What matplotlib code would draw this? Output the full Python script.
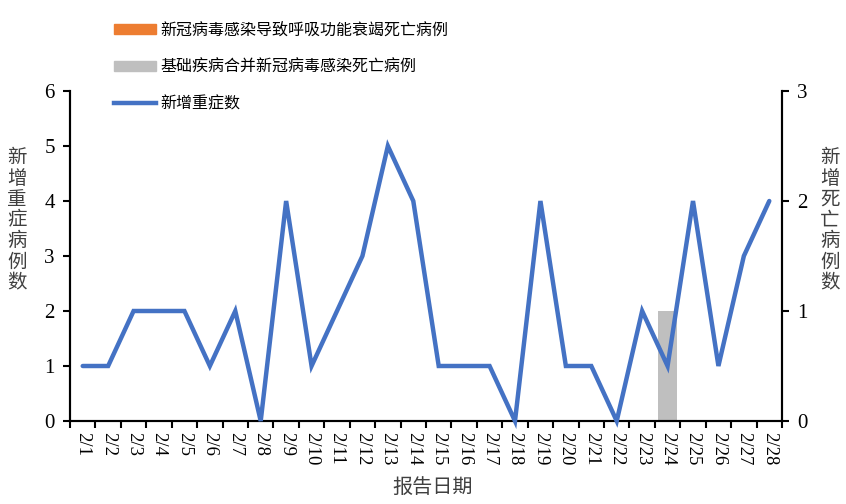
import matplotlib
matplotlib.use("Agg")

import matplotlib.pyplot as plt
import matplotlib.lines as mlines
import matplotlib.patches as mpatches
import numpy as np

# ── Data ──────────────────────────────────────────────────────────────────────
dates = [f"2/{d}" for d in range(1, 29)]
severe_new = [1, 1, 2, 2, 2, 1, 2, 0, 4, 1, 2, 3, 5, 4,
              1, 1, 1, 0, 4, 1, 1, 0, 2, 1, 4, 1, 3, 4]
deaths_resp = [0] * 28
deaths_comorb = [0] * 23 + [1] + [0] * 4

labels = ["新冠病毒感染导致呼吸功能衰竭死亡病例",
          "基础疾病合并新冠病毒感染死亡病例",
          "新增重症数"]

C_ORANGE = "#ED7D31"
C_GRAY = "#BFBFBF"
C_BLUE = "#4472C4"

CJK = ["Noto Sans CJK SC", "DejaVu Sans"]
NUM = "Liberation Serif"

fig = plt.figure(figsize=(8.46, 5.04), dpi=100)
ax = fig.add_axes([70 / 846, 1 - 421 / 504, 712 / 846, 330 / 504])
ax2 = ax.twinx()

x = np.arange(len(dates))
ax2.bar(x, deaths_resp, width=0.78, color=C_ORANGE, zorder=1)
ax2.bar(x, deaths_comorb, width=0.78, color=C_GRAY, zorder=1)
ax2.set_ylim(0, 3)
ax2.set_yticks([0, 1, 2, 3])

# line on top of bars
ax.set_zorder(ax2.get_zorder() + 1)
ax.patch.set_visible(False)
ax.plot(x, severe_new, color=C_BLUE, linewidth=3.2, solid_joinstyle="miter",
        solid_capstyle="round", clip_on=False, zorder=3)
ax.set_ylim(0, 6)
ax.set_yticks(range(7))
ax.set_xlim(-0.5, len(dates) - 0.5)

# category boundaries as ticks, labels at centres
ax.set_xticks(np.arange(-0.5, len(dates), 1.0))
ax.set_xticklabels([])
ax.set_xticks(x, minor=True)
ax.set_xticklabels(dates, minor=True, rotation=-90, fontfamily=NUM,
                   fontsize=13.5, va="top", ha="center")
ax.tick_params(axis="x", which="minor", length=0, pad=8)
ax.tick_params(axis="x", which="major", length=5, width=1.5, direction="out")

for a in (ax, ax2):
    for s in a.spines.values():
        s.set_linewidth(1.5)
    a.spines["top"].set_visible(False)
ax.tick_params(axis="y", length=5, width=1.5, labelsize=15, pad=6)
ax2.tick_params(axis="y", length=5, width=1.5, labelsize=15, pad=6)
for t in ax.get_yticklabels() + ax2.get_yticklabels():
    t.set_fontfamily(NUM)

# stacked vertical axis titles
fig.text(17 / 846, 1 - 220 / 504, "\n".join("新增重症病例数"), family=CJK,
         fontsize=14, color="#404040", ha="center", va="center", linespacing=1.0)
fig.text(830 / 846, 1 - 220 / 504, "\n".join("新增死亡病例数"), family=CJK,
         fontsize=14, color="#404040", ha="center", va="center", linespacing=1.0)
fig.text(433 / 846, 1 - 487 / 504, "报告日期", family=CJK, fontsize=14.5,
         color="#404040", ha="center", va="center")

handles = [
    mpatches.Patch(color=C_ORANGE),
    mpatches.Patch(color=C_GRAY),
    mlines.Line2D([], [], color=C_BLUE, linewidth=3.2),
]
fig.legend(handles, labels, loc="upper left", bbox_to_anchor=(100 / 846, 1 - 7 / 504),
           frameon=False, prop={"family": CJK, "size": 11.5}, handlelength=2.6,
           handleheight=0.6, labelspacing=1.25, handletextpad=0.3)

fig.savefig("out.png", dpi=100)
